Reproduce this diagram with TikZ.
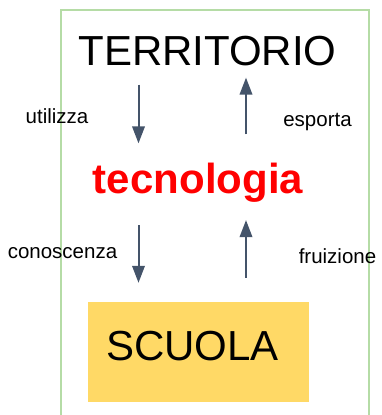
\documentclass[tikz,border=0pt]{standalone}
\usepackage{fontspec}
\setmainfont{Liberation Sans}
\usepackage{xcolor}
\usetikzlibrary{positioning, arrows.meta, calc}
\definecolor{framegreen}{HTML}{B5DCA6}
\definecolor{arrowgray}{HTML}{44546A}
\definecolor{schoolgold}{HTML}{FFD966}
\definecolor{techred}{HTML}{FF0000}

\tikzset{
  bigword/.style={inner sep=0pt, anchor=base, font=\fontsize{42}{48}\selectfont},
  sidelbl/.style={inner sep=0pt, anchor=base, font=\fontsize{20.5}{24}\selectfont},
  flow/.style={draw=arrowgray, line width=2pt, -{Triangle[length=17pt,width=12.5pt]}}
}

\begin{document}
\begin{tikzpicture}[x=1pt, y=-1pt]
    \useasboundingbox (0,0) rectangle (382,415);
    % outer frame, open at the bottom
    \draw[framegreen, line width=2pt] (61,418) |- (368.5,10) -- (368.5,418);

    \node[bigword] (terr) at (207.5,65.5) {TERRITORIO};
    \node[bigword, text=techred, font=\fontsize{42}{48}\selectfont\bfseries] (tecno) at (198,193) {tecnologia};
    \node[fill=schoolgold, minimum width=221pt, minimum height=100pt, inner sep=0pt] (scuola) at (198.5,352) {};
    \node[bigword] (scuolatxt) at (192.5,360) {SCUOLA};

    \node[sidelbl] (utl) at (57,123) {utilizza};
    \node[sidelbl] (esp) at (317.5,126) {esporta};
    \node[sidelbl] (con) at (62.5,258) {conoscenza};
    \node[sidelbl] (fru) at (337.5,263) {fruizione};

    % down: territorio -> tecnologia -> scuola
    \draw[flow] ([shift={(-69,18.5)}]terr.south) -- ([shift={(-59.5,-19)}]tecno.north);
    \draw[flow] ([shift={(-59.5,23)}]tecno.south) -- ([shift={(-60,-19)}]scuola.north);
    % up: scuola -> tecnologia -> territorio
    \draw[flow] ([shift={(47.5,-24)}]scuola.north) -- ([shift={(48,18)}]tecno.south);
    \draw[flow] ([shift={(48,-28)}]tecno.north) -- ([shift={(38.5,11.5)}]terr.south);
\end{tikzpicture}
\end{document}
